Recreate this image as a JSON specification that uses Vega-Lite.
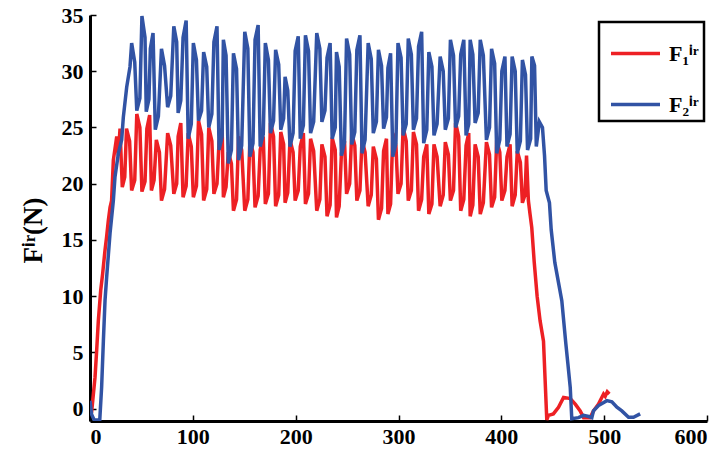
{
  "$schema": "https://vega.github.io/schema/vega-lite/v6.json",
  "width": 617,
  "height": 406,
  "autosize": {"type": "none"},
  "padding": {"left": 90, "top": 15, "right": 20, "bottom": 33},
  "background": "white",
  "config": {
    "view": {"stroke": null},
    "axis": {
      "grid": false,
      "labelFont": "Liberation Serif",
      "labelFontWeight": "bold",
      "labelFontSize": 22,
      "labelColor": "black",
      "domainColor": "black",
      "domainWidth": 3,
      "tickColor": "black",
      "tickWidth": 1.5,
      "tickSize": -6,
      "titleFont": "Liberation Serif",
      "titleFontWeight": "bold",
      "titleColor": "black"
    }
  },
  "datasets": {
    "f1": [
      {"t":0,"F":0.4},{"t":2,"F":0.1},{"t":4.9,"F":2.8},{"t":6.5,"F":5.2},{"t":8.1,"F":7.8},{"t":10.4,"F":10.5},{"t":12.3,"F":12},{"t":14.6,"F":14.1},{"t":16.2,"F":15.3},{"t":17.8,"F":16.7},{"t":19.5,"F":17.9},{"t":21,"F":18.5},{"t":22.7,"F":22.1},{"t":26,"F":24.2},{"t":27.5,"F":22.5},{"t":29.2,"F":24.9},
      {"t":31.4,"F":19.7},{"t":33.8,"F":20.6},{"t":35.5,"F":24.9},{"t":38.5,"F":23.8},{"t":40.5,"F":19.4},{"t":43.5,"F":20.3},{"t":45.5,"F":26.2},{"t":48.5,"F":25.0},{"t":50.5,"F":19.3},{"t":53.5,"F":20.2},{"t":55.3,"F":24.9},{"t":58,"F":26.1},{"t":59.7,"F":19.4},{"t":62.3,"F":20.3},{"t":64.5,"F":23.9},{"t":67.5,"F":22.8},{"t":69.5,"F":18.5},{"t":72.5,"F":19.5},{"t":75.5,"F":24.5},{"t":78.5,"F":23.4},{"t":81.5,"F":19.1},{"t":84.3,"F":20.0},{"t":85.7,"F":24.2},{"t":88.3,"F":25.4},{"t":90.5,"F":18.8},{"t":93.5,"F":19.8},{"t":95.5,"F":24.5},{"t":98.5,"F":23.3},{"t":100.5,"F":18.8},{"t":103.5,"F":19.8},{"t":105.5,"F":25.6},{"t":108.5,"F":24.4},{"t":110.5,"F":18.5},{"t":113.5,"F":19.5},{"t":115.5,"F":25.0},{"t":118.5,"F":23.8},{"t":120.5,"F":19.1},{"t":123.5,"F":20.0},{"t":125.5,"F":23.7},{"t":128.5,"F":24.9},{"t":129.7,"F":18.8},{"t":132.3,"F":19.7},{"t":134.5,"F":22.8},{"t":137.5,"F":21.8},{"t":139.5,"F":17.6},{"t":142.5,"F":18.6},{"t":144.5,"F":24.2},{"t":147.5,"F":23.0},{"t":150.5,"F":17.6},{"t":153.5,"F":18.6},{"t":155.5,"F":23.9},{"t":158.5,"F":22.8},{"t":160.5,"F":17.9},{"t":163.5,"F":18.9},{"t":165.5,"F":23.0},{"t":168.5,"F":24.2},{"t":170.5,"F":18.2},{"t":173.5,"F":19.1},{"t":175.5,"F":25.4},{"t":178.5,"F":24.2},{"t":180.5,"F":18.0},{"t":183.5,"F":19.0},{"t":185.5,"F":24.6},{"t":188.3,"F":23.5},{"t":189.7,"F":18.3},{"t":192.3,"F":19.2},{"t":194.5,"F":23.9},{"t":197.5,"F":22.8},{"t":199.5,"F":18.5},{"t":202.5,"F":19.4},{"t":204.5,"F":23.3},{"t":207.5,"F":24.5},{"t":209.5,"F":18.2},{"t":212.5,"F":19.1},{"t":214.5,"F":24.0},{"t":217.5,"F":22.9},{"t":220.5,"F":17.6},{"t":223.5,"F":18.6},{"t":225.5,"F":23.5},{"t":228.5,"F":22.4},{"t":230.5,"F":17.1},{"t":233.5,"F":18.1},{"t":235.5,"F":24.1},{"t":238.5,"F":23.0},{"t":239.7,"F":17.0},{"t":242.3,"F":18.0},{"t":244.5,"F":22.7},{"t":247.5,"F":23.8},{"t":249.5,"F":19.1},{"t":252.5,"F":20.0},{"t":254.5,"F":24.5},{"t":257.5,"F":23.4},{"t":259.5,"F":18.5},{"t":262.5,"F":19.4},{"t":264.5,"F":23.9},{"t":267.5,"F":22.8},{"t":270.5,"F":18.0},{"t":273.5,"F":19.0},{"t":275.5,"F":23.3},{"t":278.5,"F":22.2},{"t":280.5,"F":16.8},{"t":283.5,"F":17.8},{"t":285.5,"F":22.9},{"t":288.3,"F":24.0},{"t":289.7,"F":17.3},{"t":292.3,"F":18.2},{"t":294.5,"F":24.5},{"t":297.5,"F":23.4},{"t":299.5,"F":19.1},{"t":302.5,"F":20.0},{"t":304.5,"F":25.0},{"t":307.5,"F":23.8},{"t":309.5,"F":18.5},{"t":312.5,"F":19.4},{"t":314.5,"F":24.6},{"t":317.5,"F":23.5},{"t":319.5,"F":17.6},{"t":322.5,"F":18.6},{"t":324.5,"F":22.4},{"t":327.5,"F":23.5},{"t":329.5,"F":17.3},{"t":332.5,"F":18.2},{"t":334.5,"F":23.5},{"t":337.5,"F":22.4},{"t":340.5,"F":18.0},{"t":343.5,"F":19.0},{"t":345.5,"F":23.7},{"t":348.5,"F":22.6},{"t":350.5,"F":18.5},{"t":353.5,"F":19.4},{"t":355.5,"F":25.4},{"t":358.5,"F":24.2},{"t":360.5,"F":17.6},{"t":363.5,"F":18.6},{"t":365.7,"F":23.4},{"t":368.3,"F":24.5},{"t":369.7,"F":17.1},{"t":372.3,"F":18.1},{"t":374.5,"F":23.5},{"t":377.5,"F":22.4},{"t":379.5,"F":17.3},{"t":382.5,"F":18.3},{"t":385.5,"F":23.7},{"t":388.5,"F":22.6},{"t":390.5,"F":17.9},{"t":393.5,"F":18.8},{"t":395.5,"F":23.9},{"t":398.5,"F":22.8},{"t":400.5,"F":18.5},{"t":403.5,"F":19.4},{"t":405.5,"F":22.4},{"t":408.5,"F":23.5},{"t":410.5,"F":18.0},{"t":413.5,"F":19.0},{"t":415.5,"F":22.9},{"t":418.5,"F":21.9},{"t":420.5,"F":18.3},{"t":423,"F":19.0},
      {"t":424.5,"F":22.5},{"t":426.3,"F":18.5},{"t":427.9,"F":17.3},{"t":429.6,"F":16.1},{"t":432,"F":13},{"t":434.8,"F":10},{"t":437.7,"F":7.8},{"t":441,"F":6},{"t":442.6,"F":2.5},{"t":444.2,"F":-1.0},{"t":445.8,"F":-0.6},{"t":450.6,"F":-0.47},{"t":455.6,"F":0.12},{"t":460.5,"F":1.0},{"t":467,"F":0.9},{"t":471.9,"F":0.4},{"t":476.7,"F":-0.2},{"t":480,"F":-0.8},{"t":486.4,"F":-0.8},{"t":489.6,"F":-0.2},{"t":494.5,"F":0.4},{"t":499.4,"F":1.3},{"t":501,"F":1.1},{"t":503,"F":1.5},{"t":505,"F":1.3}
    ],
    "f2": [
      {"t":0,"F":0.7},{"t":1.5,"F":-0.5},{"t":4,"F":-1.0},{"t":9.5,"F":-1.0},{"t":11.3,"F":1.9},{"t":13,"F":6},{"t":14.6,"F":9.6},{"t":16.2,"F":11.7},{"t":19.5,"F":15.6},{"t":22.7,"F":18.5},{"t":24.3,"F":20.6},{"t":27.6,"F":22.7},{"t":30.8,"F":23.9},{"t":32.4,"F":25.9},{"t":35.7,"F":28.6},{"t":38.9,"F":30.4},
      {"t":40.5,"F":32.5},{"t":43.5,"F":30.8},{"t":45.5,"F":26.5},{"t":48.5,"F":27.6},{"t":50.5,"F":34.9},{"t":53.5,"F":33.0},{"t":54.7,"F":26.4},{"t":57.3,"F":27.5},{"t":58.7,"F":32.0},{"t":61.3,"F":33.4},{"t":63.5,"F":24.8},{"t":66.5,"F":26.0},{"t":69.5,"F":32.0},{"t":72.5,"F":30.5},{"t":75.5,"F":26.8},{"t":78.5,"F":27.8},{"t":81.5,"F":34.0},{"t":84.3,"F":32.6},{"t":85.7,"F":26.3},{"t":88.3,"F":27.4},{"t":90.5,"F":33.0},{"t":93.5,"F":34.5},{"t":95.5,"F":24.0},{"t":98.5,"F":25.3},{"t":100.5,"F":32.5},{"t":103.5,"F":31.0},{"t":105.5,"F":25.6},{"t":108.5,"F":26.5},{"t":110.5,"F":31.7},{"t":113.5,"F":30.4},{"t":115.5,"F":25.0},{"t":118.5,"F":26.2},{"t":120.5,"F":32.6},{"t":123.5,"F":34.0},{"t":125.5,"F":23.0},{"t":128.5,"F":24.2},{"t":129.7,"F":32.8},{"t":132.3,"F":31.4},{"t":134.5,"F":21.8},{"t":137.5,"F":23.0},{"t":139.5,"F":31.6},{"t":142.5,"F":30.2},{"t":144.5,"F":22.1},{"t":147.5,"F":23.4},{"t":150.5,"F":33.5},{"t":153.5,"F":32.0},{"t":155.5,"F":22.4},{"t":158.5,"F":23.6},{"t":160.5,"F":32.8},{"t":163.5,"F":34.1},{"t":165.5,"F":23.3},{"t":168.5,"F":24.4},{"t":170.5,"F":32.5},{"t":173.5,"F":31.0},{"t":175.5,"F":24.5},{"t":178.5,"F":25.6},{"t":180.5,"F":31.9},{"t":183.5,"F":30.6},{"t":185.5,"F":24.8},{"t":188.3,"F":25.8},{"t":189.7,"F":29.5},{"t":192.3,"F":28.3},{"t":194.5,"F":23.3},{"t":197.5,"F":24.5},{"t":199.5,"F":31.8},{"t":202.5,"F":33.1},{"t":204.5,"F":24.0},{"t":207.5,"F":25.2},{"t":209.5,"F":33.2},{"t":212.5,"F":31.8},{"t":214.5,"F":24.5},{"t":217.5,"F":25.5},{"t":220.5,"F":33.4},{"t":223.5,"F":32.0},{"t":225.5,"F":25.5},{"t":228.5,"F":26.5},{"t":230.5,"F":31.2},{"t":233.5,"F":32.5},{"t":235.5,"F":24.0},{"t":238.5,"F":25.0},{"t":239.7,"F":31.7},{"t":242.3,"F":30.4},{"t":244.5,"F":22.5},{"t":247.5,"F":23.7},{"t":249.5,"F":32.9},{"t":252.5,"F":31.5},{"t":254.5,"F":23.5},{"t":257.5,"F":24.6},{"t":259.5,"F":31.9},{"t":262.5,"F":33.2},{"t":264.5,"F":22.7},{"t":267.5,"F":23.9},{"t":270.5,"F":32.5},{"t":273.5,"F":31.1},{"t":275.5,"F":24.5},{"t":278.5,"F":25.5},{"t":280.5,"F":31.9},{"t":283.5,"F":30.5},{"t":285.5,"F":24.9},{"t":288.3,"F":25.9},{"t":289.7,"F":30.3},{"t":292.3,"F":31.6},{"t":294.5,"F":22.4},{"t":297.5,"F":23.6},{"t":299.5,"F":32.5},{"t":302.5,"F":31.2},{"t":304.5,"F":24.3},{"t":307.5,"F":25.3},{"t":309.5,"F":32.9},{"t":312.5,"F":31.5},{"t":314.5,"F":24.8},{"t":317.5,"F":25.8},{"t":319.5,"F":32.2},{"t":322.5,"F":33.5},{"t":324.5,"F":23.6},{"t":327.5,"F":24.8},{"t":329.5,"F":31.7},{"t":332.5,"F":30.4},{"t":334.5,"F":24.3},{"t":337.5,"F":25.3},{"t":340.5,"F":31.3},{"t":343.5,"F":30.0},{"t":345.5,"F":24.8},{"t":348.5,"F":25.8},{"t":350.5,"F":32.8},{"t":353.5,"F":31.4},{"t":355.5,"F":25.0},{"t":358.5,"F":26.0},{"t":360.5,"F":31.5},{"t":363.5,"F":32.8},{"t":365.7,"F":24.3},{"t":368.3,"F":25.3},{"t":369.7,"F":32.8},{"t":372.3,"F":31.5},{"t":374.5,"F":25.4},{"t":377.5,"F":26.3},{"t":379.5,"F":32.8},{"t":382.5,"F":31.4},{"t":385.5,"F":23.9},{"t":388.5,"F":25.0},{"t":390.5,"F":32.0},{"t":393.5,"F":30.7},{"t":395.5,"F":22.7},{"t":398.5,"F":23.9},{"t":400.5,"F":30.0},{"t":403.5,"F":31.3},{"t":405.5,"F":23.3},{"t":408.5,"F":24.4},{"t":410.5,"F":31.3},{"t":413.5,"F":30.0},{"t":415.5,"F":22.7},{"t":418.5,"F":23.8},{"t":420.5,"F":31.0},{"t":423.5,"F":29.7},{"t":425.5,"F":23.0},{"t":428.5,"F":24.0},{"t":429.7,"F":31.3},{"t":432.3,"F":30.5},
      {"t":434,"F":23.3},{"t":437,"F":25.5},{"t":440,"F":25.0},{"t":442,"F":22.5},{"t":443.6,"F":19.4},{"t":446.8,"F":18.3},{"t":448.5,"F":15.9},{"t":452,"F":13},{"t":456,"F":11},{"t":458.8,"F":9.6},{"t":462.7,"F":5.8},{"t":464.7,"F":4},{"t":467,"F":1.9},{"t":468.5,"F":-0.9},{"t":475,"F":-0.8},{"t":480,"F":-0.6},{"t":485,"F":-0.7},{"t":488,"F":-0.8},{"t":489.6,"F":-0.2},{"t":494.5,"F":0.27},{"t":502.6,"F":0.71},{"t":507.5,"F":0.6},{"t":512.4,"F":0.12},{"t":517.2,"F":-0.2},{"t":523.7,"F":-0.77},{"t":528.5,"F":-0.77},{"t":535,"F":-0.47}
    ]
  },
  "encoding": {
    "x": {
      "field": "t",
      "type": "quantitative",
      "scale": {"domain": [0, 600], "nice": false},
      "axis": {"values": [0, 100, 200, 300, 400, 500, 600], "title": null, "labelPadding": 11}
    },
    "y": {
      "field": "F",
      "type": "quantitative",
      "scale": {"domain": [-1.1, 35], "nice": false, "zero": false},
      "axis": {"values": [0, 5, 10, 15, 20, 25, 30, 35], "title": "Fⁱʳ(N)", "titleFontSize": 27, "titlePadding": 14, "titleY": 215, "labelPadding": 13}
    }
  },
  "layer": [
    {
      "data": {"name": "f1"},
      "mark": {"type": "line", "strokeWidth": 3.5, "clip": true},
      "encoding": {
        "color": {
          "datum": "F₁ⁱʳ",
          "type": "nominal",
          "scale": {"domain": ["F₁ⁱʳ", "F₂ⁱʳ"], "range": ["#ED2024", "#3153A4"]},
          "legend": {
            "title": null,
            "orient": "none",
            "legendX": 509,
            "legendY": 7,
            "padding": 5,
            "strokeColor": "black",
            "fillColor": "white",
            "symbolType": "stroke",
            "symbolSize": 2401,
            "symbolStrokeWidth": 3.5,
            "symbolOffset": 5,
            "labelOffset": 7,
            "rowPadding": 13,
            "labelFont": "Liberation Serif",
            "labelFontWeight": "bold",
            "labelFontSize": 22,
            "labelColor": "black",
            "encode": {"legend": {"update": {"strokeWidth": {"value": 2.5}}}}
          }
        }
      }
    },
    {
      "data": {"name": "f2"},
      "mark": {"type": "line", "strokeWidth": 3.5, "clip": true},
      "encoding": {
        "color": {"datum": "F₂ⁱʳ", "type": "nominal"}
      }
    }
  ]
}
